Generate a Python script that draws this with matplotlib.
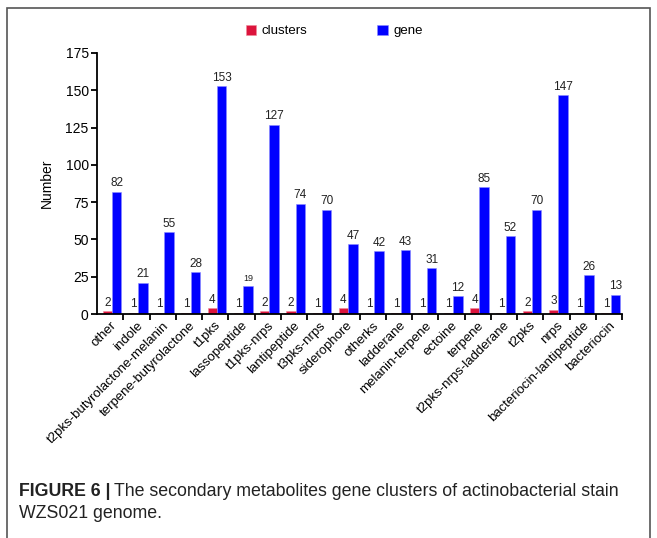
import numpy as np
import matplotlib.pyplot as plt
from matplotlib.patches import Rectangle

plt.rcParams['font.family'] = ['Liberation Sans', 'DejaVu Sans']

categories = ['other', 'indole', 't2pks-butyrolactone-melanin', 'terpene-butyrolactone',
              't1pks', 'lassopeptide', 't1pks-nrps', 'lantipeptide', 't3pks-nrps',
              'siderophore', 'otherks', 'ladderane', 'melanin-terpene', 'ectoine',
              'terpene', 't2pks-nrps-ladderane', 't2pks', 'nrps',
              'bacteriocin-lantipeptide', 'bacteriocin']
clusters = [2, 1, 1, 1, 4, 1, 2, 2, 1, 4, 1, 1, 1, 1, 4, 1, 2, 3, 1, 1]
gene = [82, 21, 55, 28, 153, 19, 127, 74, 70, 47, 42, 43, 31, 12, 85, 52, 70, 147, 26, 13]

fig = plt.figure(figsize=(6.57, 5.38), dpi=100)
ax = fig.add_axes([97/657, 1-314/538, (622-97)/657, (314-53)/538])

x = np.arange(len(categories))
w = 0.36
red = '#dc143c'
blue = '#0000ff'
ax.bar(x - 0.11, clusters, w, color=red, edgecolor='#f08a9a', linewidth=0.4, label='clusters')
ax.bar(x + 0.25, gene, w, color=blue, edgecolor='#8c8cff', linewidth=0.4, label='gene')

for i in x:
    ax.text(i - 0.11, clusters[i] + 1.5, str(clusters[i]), ha='center', va='bottom',
            fontsize=8.5, color='#222222')
    fs = 6.5 if gene[i] == 19 else 8.5
    ax.text(i + 0.25, gene[i] + 1.5, str(gene[i]), ha='center', va='bottom',
            fontsize=fs, color='#222222')

ax.set_xlim(-0.5, len(categories) - 0.5)
ax.set_ylim(0, 175)
ax.set_yticks(range(0, 176, 25))
ax.tick_params(axis='y', direction='out', length=4, width=1.3, labelsize=10, pad=2)
ax.set_xticks(x)
ax.set_xticklabels(categories, rotation=45, ha='right', rotation_mode='anchor', fontsize=9.5)
ax.tick_params(axis='x', length=0, pad=4)
ax.set_xticks(np.arange(len(categories)) + 0.5, minor=True)
ax.tick_params(axis='x', which='minor', direction='out', length=4, width=1.3)
for s in ['top', 'right']:
    ax.spines[s].set_visible(False)
for s in ['left', 'bottom']:
    ax.spines[s].set_linewidth(1.3)
ax.set_ylabel('Number', fontsize=10, labelpad=8)

ax.legend(loc='center', bbox_to_anchor=(0.452, 1.084), ncol=2, frameon=False,
          fontsize=9.5, handlelength=0.8, handleheight=0.8, columnspacing=5.3,
          handletextpad=0.4)

fig.patches.append(Rectangle((7/657, -0.1), (650-7)/657, 1.1 - 8/538, transform=fig.transFigure,
                             fill=False, edgecolor='#555555', linewidth=1.2))

# caption: bold lead-in followed by regular text
cap_fs = 12.8
t1 = fig.text(19/657, 1-496/538, 'FIGURE 6 |', fontsize=cap_fs, fontweight='bold',
              color='#222222', va='baseline')
fig.canvas.draw()
bb = t1.get_window_extent()
fig.text((bb.x1 + 4)/657, 1-496/538,
         'The secondary metabolites gene clusters of actinobacterial stain',
         fontsize=cap_fs, color='#222222', va='baseline')
fig.text(19/657, 1-518/538, 'WZS021 genome.', fontsize=cap_fs, color='#222222', va='baseline')

fig.savefig('out.png', dpi=100)
